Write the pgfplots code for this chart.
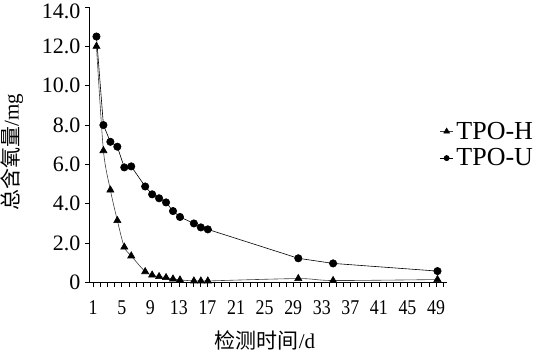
\documentclass[border=0pt]{standalone}
\usepackage{pgfplots}
\pgfplotsset{compat=1.18}
\usepackage{fontspec}
\setmainfont{Liberation Serif}
\newfontfamily\cjk{Noto Sans CJK SC}
\newcommand\yt[1]{\mbox{\fontsize{22}{22}\selectfont #1}}
\newcommand\xt[1]{\mbox{\fontsize{21}{21}\selectfont #1}}
\begin{document}
\begin{tikzpicture}
\useasboundingbox (-89.5pt,-70.5pt) rectangle (453.5pt,282.5pt);
\begin{axis}[
  scale only axis,
  width=357.3pt, height=275.5pt,
  xmin=0, xmax=51.34, ymin=0, ymax=14,
  axis x line=bottom, axis y line=left,
  axis line style={-, line width=0.7pt},
  tick align=outside,
  major tick length=4pt, minor tick length=4pt,
  tick style={black, line width=0.6pt},
  xtick={0.527,4.633,8.738,12.844,16.949,21.055,25.161,29.266,33.372,37.477,41.583,45.689,49.794},
  xticklabels={\xt{1},\xt{5},\xt{9},\xt{13},\xt{17},\xt{21},\xt{25},\xt{29},\xt{33},\xt{37},\xt{41},\xt{45},\xt{49}},
  minor xtick={0.527,1.5534,...,50.9},
  ytick={0,2,4,6,8,10,12,14},
  yticklabels={\yt{0},\yt{2.0},\yt{4.0},\yt{6.0},\yt{8.0},\yt{10.0},\yt{12.0},\raisebox{-4.5pt}[\height][\depth]{\yt{14.0}}},
  xticklabel style={inner sep=0pt, anchor=north, xscale=0.85, yshift=-14pt},
  yticklabel style={inner sep=0pt, anchor=east, xshift=-4.8pt},
  every axis x label/.style={at={(axis description cs:0.491,0)}, yshift=-57.5pt, anchor=center},
  every axis y label/.style={at={(axis description cs:0,0.472)}, xshift=-77.5pt, rotate=90, anchor=center},
  xlabel={\fontsize{21}{21}\selectfont{\cjk 检测时间}/d},
  ylabel={\fontsize{21}{21}\selectfont{\cjk 总含氧量}/mg},
  clip=false,
  legend style={at={(axis description cs:0.980,0.5)}, anchor=west, draw=none, fill=none,
    inner sep=0pt, font=\fontsize{26}{26}\selectfont, row sep=4pt, column sep=1pt,
    nodes={inner sep=2pt}},
  legend cell align=left,
  legend image code/.code={\draw[mark repeat=2, mark phase=2] plot coordinates {(0pt,0pt) (6.5pt,0pt) (13pt,0pt)};},
]
\addplot[color=black!75, line width=0.6pt, smooth, tension=0.45,
  mark=triangle*, mark size=4.1pt, mark options={solid, fill=black, draw=black},
  legend image post style={mark size=3.3pt}]
  coordinates {(1,12.0)(2,6.7)(3,4.7)(4,3.15)(5,1.8)(6,1.35)(8,0.55)(9,0.38)(10,0.3)(11,0.25)(12,0.18)(13,0.13)(15,0.08)(16,0.08)(17,0.08)(30,0.2)(35,0.1)(50,0.15)};
\addlegendentry{TPO-H}
\addplot[color=black, line width=0.6pt,
  mark=*, mark size=3.7pt, mark options={solid, fill=black, draw=black},
  legend image post style={mark size=2.6pt}]
  coordinates {(1,12.5)(2,8.0)(3,7.15)(4,6.9)(5,5.85)(6,5.9)(8,4.88)(9,4.48)(10,4.28)(11,4.07)(12,3.63)(13,3.33)(15,3.0)(16,2.8)(17,2.7)(30,1.23)(35,0.97)(50,0.58)};
\addlegendentry{TPO-U}
\end{axis}
\end{tikzpicture}
\end{document}
